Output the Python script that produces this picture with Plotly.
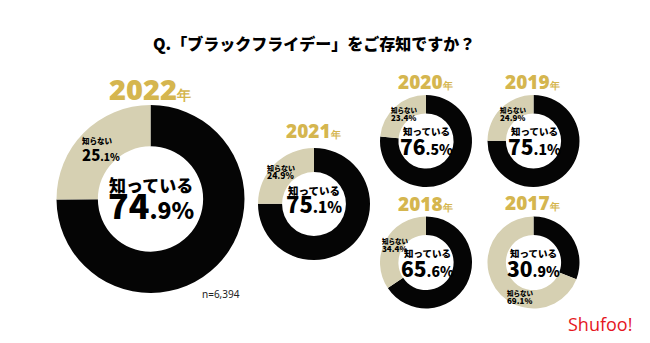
import plotly.graph_objects as go

# ---- data ----
years = ["2022", "2021", "2020", "2019", "2018", "2017"]
know = [74.9, 75.1, 76.5, 75.1, 65.6, 30.9]
dont_know = [25.1, 24.9, 23.4, 24.9, 34.4, 69.1]
labels = ["知っている", "知らない"]
title_text = "Q.「ブラックフライデー」をご存知ですか？"
sample_note = "n=6,394"

# ---- layout (pixel geometry) ----
W, H = 650, 343
BLACK = "#050505"
TAN = "#D6D0B2"
GOLD = "#D5B64F"
JP = "Noto Sans CJK JP"
NUM = "Noto Sans"

small = dict(r=46, hole=0.6, ys=19, ks=9.5, kb=15, pb=21, ps=14, dks=6.5, db=6.5, dps=(8, 8))
geo = [
    dict(cx=150.5, cy=199, r=94, hole=0.56, ylab=88, kc=(151, 200), dk=(80, 150),
         ys=29, ks=17, kb=21, pb=34, ps=23, dks=7.5, db=13, dps=(15, 10)),
    dict(cx=314, cy=204, r=56, hole=0.57, ylab=131, kc=(314, 201), dk=(265, 172),
         ys=19, ks=10.5, kb=14, pb=22, ps=15, dks=7, db=6.5, dps=(8.5, 8.5)),
    dict(small, cx=426, cy=141, ylab=82, kc=(426, 142), dk=(389, 113.5)),
    dict(small, cx=533.5, cy=141, ylab=82, kc=(534, 142), dk=(498, 113.5)),
    dict(small, cx=426, cy=262.5, ylab=204, kc=(427, 264), dk=(380, 244.5)),
    dict(small, cx=533.5, cy=262.5, ylab=203, kc=(533, 264), dk=(505, 297)),
]

fig = go.Figure()
ann = []


def px(x):
    return x / W


def py(y):
    return 1 - y / H


def add_text(x, y, text, size, color="#000", weight=900, family=JP, xanchor="center", align="center"):
    ann.append(dict(x=px(x), y=py(y), xref="paper", yref="paper", text=text, showarrow=False,
                    xanchor=xanchor, yanchor="middle", align=align,
                    font=dict(size=size, color=color, family=family, weight=weight)))


def sp(size, text):
    return f"<span style='font-size:{size}px'>{text}</span>"


for i, yr in enumerate(years):
    g = geo[i]
    fig.add_trace(go.Pie(
        labels=labels, values=[know[i], dont_know[i]],
        marker=dict(colors=[BLACK, TAN], line=dict(width=0)),
        hole=g["hole"], sort=False, direction="clockwise", rotation=0,
        textinfo="none", hoverinfo="label+percent",
        domain=dict(x=[px(g["cx"] - g["r"]), px(g["cx"] + g["r"])],
                    y=[py(g["cy"] + g["r"]), py(g["cy"] - g["r"])]),
        showlegend=False,
    ))
    # year label
    ys = g["ys"]
    add_text(g["cx"] - 1, g["ylab"], f"{yr}" + sp(round(ys * 0.5), "年"), ys, GOLD, family=NUM)
    # know block
    whole, dec = f"{know[i]:.1f}".split(".")
    add_text(g["kc"][0], g["kc"][1],
             sp(g["ks"], labels[0]) + "<br>" + sp(g["pb"], whole) + sp(g["ps"], f".{dec}%"), g["kb"])
    # dont-know block
    dw, dd = f"{dont_know[i]:.1f}".split(".")
    b, s2 = g["dps"]
    add_text(g["dk"][0], g["dk"][1],
             sp(g["dks"], labels[1]) + "<br>" + sp(b, dw) + sp(s2, f".{dd}%"), g["db"],
             xanchor="left", align="left")

# title
add_text(314, 43, title_text, 16)
# sample note
add_text(221, 294, sample_note, 10, color="#222", weight=400, family=NUM)
# logo
add_text(600, 324, "Shufoo!", 18, color="#E5161E", weight=400, family="Open Sans")

fig.update_layout(
    width=W, height=H, margin=dict(l=0, r=0, t=0, b=0),
    paper_bgcolor="white", plot_bgcolor="white",
    annotations=ann, showlegend=False,
)
fig.write_html("out.html")
